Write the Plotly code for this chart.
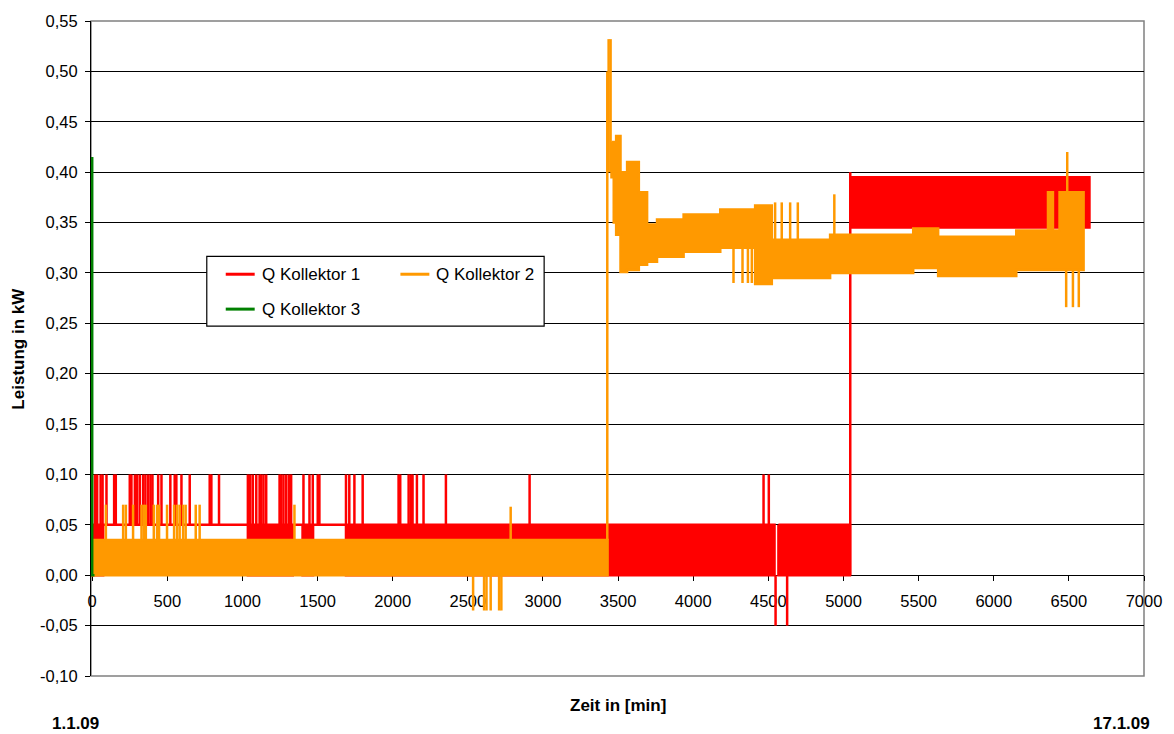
import plotly.graph_objects as go

# ---------------- data (time in min, power in kW) ----------------
# Q Kollektor 1 (red): densely oscillating bands given as [start, end] with low/high level
k1_seg_start = [0, 73, 1036, 1335, 1400, 1470, 1689, 4567, 5045]
k1_seg_end = [73, 1036, 1335, 1400, 1470, 1689, 4541, 5043, 6637]
k1_seg_low = [0.0, 0.05, 0.0, 0.05, 0.0, 0.05, 0.0, 0.0, 0.345]
k1_seg_high = [0.05, 0.05, 0.05, 0.05, 0.05, 0.05, 0.05, 0.05, 0.395]
# Q Kollektor 1 single excursions: time, level before, level reached
k1_spike_t = [18, 33, 56, 69, 95, 146, 157, 250, 261, 284, 299, 317, 339, 354, 372, 388, 401,
              439, 461, 520, 549, 560, 594, 649, 782, 793, 844, 1036, 1052, 1069, 1092, 1114,
              1125, 1140, 1158, 1247, 1258, 1273, 1291, 1309, 1324, 1406, 1446, 1468, 1501,
              1512, 1689, 1711, 1745, 1800, 2039, 2050, 2106, 2121, 2132, 2161, 2205, 2354,
              2911, 4468, 4503, 4548, 4625, 5045]
k1_spike_base = [0.05] * 61 + [0.0, 0.0, 0.0]
k1_spike_peak = [0.10] * 59 + [0.10, 0.10, -0.05, -0.05, 0.40]

# Q Kollektor 2 (orange)
k2_seg_start = [0, 3456, 3471, 3487, 3516, 3560, 3638, 3693, 3759, 3936, 4180, 4412, 4523,
                4711, 4911, 5464, 5630, 6150, 6361, 6394, 6438]
k2_seg_end = [3430, 3471, 3487, 3516, 3560, 3638, 3693, 3759, 3936, 4180, 4412, 4523, 4711,
              4911, 5464, 5630, 6150, 6361, 6394, 6438, 6598]
k2_seg_low = [0.0, 0.395, 0.35, 0.338, 0.301, 0.303, 0.308, 0.311, 0.316, 0.321, 0.325, 0.289,
              0.295, 0.295, 0.30, 0.305, 0.297, 0.303, 0.303, 0.303, 0.303]
k2_seg_high = [0.035, 0.43, 0.40, 0.436, 0.40, 0.41, 0.38, 0.348, 0.353, 0.358, 0.363, 0.367,
               0.333, 0.333, 0.338, 0.344, 0.336, 0.342, 0.38, 0.342, 0.38]
k2_spike_t = [91, 206, 224, 272, 328, 343, 357, 410, 432, 445, 498, 545, 565, 582, 605, 622,
              689, 715, 1346, 2785, 2535, 2608, 2624, 2652, 2708, 2723, 3428, 3437, 3450,
              4268, 4328, 4364, 4390, 4545, 4589, 4645, 4696, 4939, 6482, 6489, 6527, 6566]
k2_spike_base = [0.035] * 20 + [0.0] * 6 + [0.035, 0.40, 0.40] + [0.325] * 4 + [0.333] * 4 + \
                [0.338, 0.303, 0.38, 0.303, 0.303]
k2_spike_peak = [0.07] * 19 + [0.068] + [-0.035] * 6 + [0.50, 0.532, 0.532] + [0.29] * 4 + \
                [0.37] * 4 + [0.378, 0.266, 0.42, 0.266, 0.266]

# Q Kollektor 3 (green)
k3_t = [0, 0, 15]
k3_v = [0.415, 0.0, 0.0]

series_names = ["Q Kollektor 1", "Q Kollektor 2", "Q Kollektor 3"]
series_colors = ["#FF0000", "#FF9900", "#008000"]

x_ticks = list(range(0, 7001, 500))
y_tick_vals = [-0.10, -0.05, 0.0, 0.05, 0.10, 0.15, 0.20, 0.25, 0.30, 0.35, 0.40, 0.45, 0.50, 0.55]
y_tick_text = ["-0,10", "-0,05", "0,00", "0,05", "0,10", "0,15", "0,20", "0,25", "0,30", "0,35",
               "0,40", "0,45", "0,50", "0,55"]


# ---------------- helpers ----------------
def band_path(s, e, lo, hi):
    blocks, cur = [], [0]
    for i in range(1, len(s)):
        if s[i] == e[i - 1]:
            cur.append(i)
        else:
            blocks.append(cur)
            cur = [i]
    blocks.append(cur)
    xs, ys = [], []
    for b in blocks:
        for i in b:
            xs += [s[i], e[i]]
            ys += [hi[i], hi[i]]
        for i in reversed(b):
            xs += [e[i], s[i]]
            ys += [lo[i], lo[i]]
        xs += [s[b[0]], None]
        ys += [hi[b[0]], None]
    return xs, ys


def spike_path(t, base, peak):
    xs, ys = [], []
    for a, b, c in zip(t, base, peak):
        xs += [a, a, None]
        ys += [b, c, None]
    return xs, ys


FONT = "Arial, Liberation Sans, sans-serif"
W, H = 1174, 734
L, R, T, B = 91, 28, 19, 58
PW, PH = W - L - R, H - T - B


def px_x(p):
    return (p - L) / PW


def px_y(p):
    return (H - B - p) / PH


fig = go.Figure()

for (s, e, lo, hi, st, sb, sp), col, name in zip(
        [(k1_seg_start, k1_seg_end, k1_seg_low, k1_seg_high, k1_spike_t, k1_spike_base, k1_spike_peak),
         (k2_seg_start, k2_seg_end, k2_seg_low, k2_seg_high, k2_spike_t, k2_spike_base, k2_spike_peak)],
        series_colors[:2], series_names[:2]):
    bx, by = band_path(s, e, lo, hi)
    fig.add_trace(go.Scatter(x=bx, y=by, mode="lines", fill="toself", fillcolor=col,
                             line=dict(color=col, width=2.5), name=name, showlegend=False,
                             hoverinfo="skip"))
    sx, sy = spike_path(st, sb, sp)
    fig.add_trace(go.Scatter(x=sx, y=sy, mode="lines", line=dict(color=col, width=2.5),
                             name=name, showlegend=False, hoverinfo="skip"))

fig.add_trace(go.Scatter(x=k3_t, y=k3_v, mode="lines", line=dict(color=series_colors[2], width=2.5),
                         name=series_names[2], showlegend=False, hoverinfo="skip"))

fig.update_layout(
    width=W, height=H,
    margin=dict(l=L, r=R, t=T, b=B),
    paper_bgcolor="white", plot_bgcolor="white",
    font=dict(family=FONT, size=16.5, color="black"),
    showlegend=False,
    xaxis=dict(range=[-8, 7000], tickvals=x_ticks, ticktext=[str(v) for v in x_ticks],
               showgrid=False, zeroline=False, showline=True, linecolor="black", linewidth=1,
               ticks="outside", ticklen=5, tickcolor="black", anchor="free",
               position=0.1 / 0.65, layer="below traces", ticklabelstandoff=6,
               tickfont=dict(family=FONT, size=16.5, color="black")),
    yaxis=dict(range=[-0.10, 0.55], tickvals=y_tick_vals, ticktext=y_tick_text,
               showgrid=True, gridcolor="#000000", gridwidth=1, zeroline=False,
               showline=True, linecolor="black", linewidth=1, ticks="outside", ticklen=5,
               tickcolor="black", layer="below traces", ticklabelstandoff=4,
               tickfont=dict(family=FONT, size=16.5, color="black")),
)

# plot-area frame (grey top/right/bottom)
fig.add_shape(type="rect", xref="paper", yref="paper", x0=0, x1=1, y0=0, y1=1,
              line=dict(color="#808080", width=1.5), layer="between")

# axis titles and date labels
ann = dict(xref="paper", yref="paper", showarrow=False, font=dict(family=FONT, size=17, color="black"))
fig.add_annotation(text="<b>Zeit in [min]</b>", x=px_x(619), y=px_y(706), xanchor="center", yanchor="middle", **ann)
fig.add_annotation(text="<b>Leistung in kW</b>", x=px_x(18), y=0.5, textangle=-90,
                   xanchor="center", yanchor="middle", **ann)
fig.add_annotation(text="<b>1.1.09</b>", x=px_x(75), y=px_y(724), xanchor="center", yanchor="middle", **ann)
fig.add_annotation(text="<b>17.1.09</b>", x=px_x(1123.5), y=px_y(724), xanchor="center", yanchor="middle", **ann)

# legend box (drawn manually to match the two-column Excel legend)
fig.add_shape(type="rect", xref="paper", yref="paper", x0=px_x(207), x1=px_x(545),
              y0=px_y(325), y1=px_y(255), line=dict(color="black", width=1.2),
              fillcolor="white", layer="above")
leg_pos = [(226, 273), (401, 273), (226, 308)]
for (lx, ly), name, col in zip(leg_pos, series_names, series_colors):
    fig.add_shape(type="line", xref="paper", yref="paper", x0=px_x(lx), x1=px_x(lx + 29),
                  y0=px_y(ly), y1=px_y(ly), line=dict(color=col, width=3), layer="above")
    fig.add_annotation(text=name, x=px_x(lx + 34), y=px_y(ly), xanchor="left", yanchor="middle",
                       xref="paper", yref="paper", showarrow=False,
                       font=dict(family=FONT, size=17, color="black"))

fig.write_html("out.html",
               config={"displayModeBar": False},
               post_script="document.body.style.margin='0';document.body.style.padding='0';"
                           "document.documentElement.style.overflow='hidden';")
